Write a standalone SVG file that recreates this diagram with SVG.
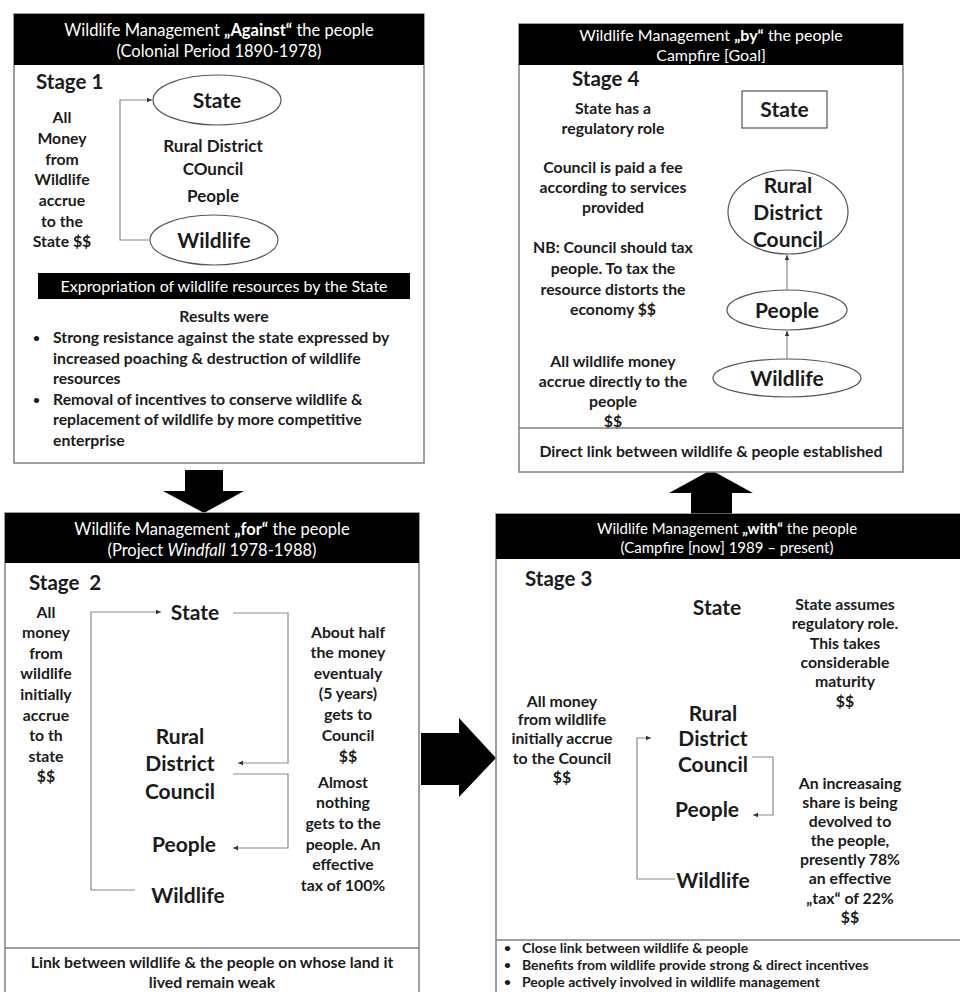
<svg xmlns="http://www.w3.org/2000/svg" width="960" height="992" viewBox="0 0 960 992">
<style>
text{font-family:Lato,"Open Sans","Liberation Sans",sans-serif;fill:#1b1b1b}
.hd{fill:#fff;font-size:16px;text-anchor:middle}
.hdl{font-size:16.5px}
.hds{font-size:15px}
.b{font-weight:bold;font-size:15.8px}
.bs{font-size:14px}
.c{text-anchor:middle}
.bl{font-size:12px;font-weight:bold}
.stg{font-weight:bold;font-size:20.5px}
.nd{font-weight:bold;font-size:21px;text-anchor:middle}
.panel{fill:#fff;stroke:#808080;stroke-width:1.5}
.bar{fill:#000}
.ell{fill:#fff;stroke:#555;stroke-width:1.2}
.conn{fill:none;stroke:#8a8a8a;stroke-width:1.2}
.big{fill:#000}
</style>
<defs>
<marker id="ah" markerWidth="6" markerHeight="6" refX="5" refY="3" orient="auto" markerUnits="userSpaceOnUse">
<path d="M0,0.8 L5,3 L0,5.2 Z" fill="#333"/>
</marker>
</defs>
<rect width="960" height="992" fill="#fff"/>

<!-- Big arrows -->
<g id="big-arrows">
<polygon class="big" points="185,470 223,470 223,491 244,491 204,513 163,491 185,491"/>
<polygon class="big" points="691,514 732,514 732,493 753,493 711,470 669,493 691,493"/>
<polygon class="big" points="421,733 459,733 459,718 496,758 459,797 459,785 421,785"/>
</g>

<!-- Panel 1 -->
<g id="panel1">
<rect class="panel" x="14" y="14" width="410" height="449"/>
<rect class="bar" x="14" y="14" width="410" height="51"/>
<text class="hd hdl" x="219" y="36">Wildlife Management <tspan font-weight="bold">„Against“</tspan> the people</text>
<text class="hd hdl" x="219" y="57">(Colonial Period 1890-1978)</text>
<text class="stg" x="36" y="89">Stage 1</text>
<text class="b c" x="62"><tspan x="62" y="123">All</tspan><tspan x="62" y="143.5">Money</tspan><tspan x="62" y="164.5">from</tspan><tspan x="62" y="185">Wildlife</tspan><tspan x="62" y="205.5">accrue</tspan><tspan x="62" y="226.5">to the</tspan><tspan x="62" y="247">State $$</tspan></text>
<g id="p1-state"><ellipse class="ell" cx="217" cy="100" rx="64" ry="25"/><text class="nd" x="217" y="107.5">State</text></g>
<g id="p1-mid"><text class="c" font-weight="bold" font-size="17px"><tspan x="213" y="152">Rural District</tspan><tspan x="213" y="175">COuncil</tspan><tspan x="213" y="202">People</tspan></text></g>
<g id="p1-wildlife"><ellipse class="ell" cx="214" cy="240" rx="64" ry="25"/><text class="nd" x="214" y="247.5">Wildlife</text></g>
<rect class="bar" x="38" y="273" width="372" height="26"/>
<text class="hd" x="224" y="291.5">Expropriation of wildlife resources by the State</text>
<text class="b c" x="224" y="322">Results were</text>
<text class="b"><tspan class="bl" x="33" y="342">•</tspan><tspan x="53" y="343">Strong resistance against the state expressed by</tspan><tspan x="53" y="363.5">increased poaching &amp; destruction of wildlife</tspan><tspan x="53" y="384">resources</tspan><tspan class="bl" x="33" y="403.5">•</tspan><tspan x="53" y="404.5">Removal of incentives to conserve wildlife &amp;</tspan><tspan x="53" y="425">replacement of wildlife by more competitive</tspan><tspan x="53" y="445.5">enterprise</tspan></text>
</g>

<!-- Panel 4 -->
<g id="panel4">
<rect class="panel" x="519" y="24" width="384" height="448"/>
<rect class="bar" x="519" y="24" width="384" height="41"/>
<text class="hd" x="711" y="40.5">Wildlife Management <tspan font-weight="bold">„by“</tspan> the people</text>
<text class="hd" x="711" y="61">Campfire [Goal]</text>
<text class="stg" x="572" y="86">Stage 4</text>
<text class="b c"><tspan x="613" y="113.5">State has a</tspan><tspan x="613" y="133.5">regulatory role</tspan><tspan x="613" y="172.5">Council is paid a fee</tspan><tspan x="613" y="192.5">according to services</tspan><tspan x="613" y="212.5">provided</tspan><tspan x="613" y="252.5">NB: Council should tax</tspan><tspan x="613" y="273.5">people. To tax the</tspan><tspan x="613" y="294.5">resource distorts the</tspan><tspan x="613" y="314.5">economy $$</tspan><tspan x="613" y="366.5">All wildlife money</tspan><tspan x="613" y="386.5">accrue directly to the</tspan><tspan x="613" y="406.5">people</tspan><tspan x="613" y="426.5">$$</tspan></text>
<g id="p4-state"><rect x="742" y="91" width="85" height="37" fill="#fff" stroke="#555" stroke-width="1.2"/><text class="nd" x="784.5" y="117">State</text></g>
<g id="p4-council"><ellipse class="ell" cx="788" cy="212" rx="60" ry="42"/><text class="nd"><tspan x="788" y="192.5">Rural</tspan><tspan x="788" y="219.5">District</tspan><tspan x="788" y="246.5">Council</tspan></text></g>
<g id="p4-people"><ellipse class="ell" cx="787" cy="310" rx="60" ry="20"/><text class="nd" x="787" y="317.5">People</text></g>
<g id="p4-wildlife"><ellipse class="ell" cx="787" cy="378" rx="74" ry="19"/><text class="nd" x="787" y="385.5">Wildlife</text></g>
<line x1="519" y1="428" x2="903" y2="428" stroke="#808080" stroke-width="1.5"/>
<text class="b c" x="711" y="457">Direct link between wildlife &amp; people established</text>
</g>

<!-- Panel 2 -->
<g id="panel2">
<rect class="panel" x="5" y="513" width="414" height="490"/>
<rect class="bar" x="5" y="513" width="414" height="50"/>
<text class="hd hdl" x="212" y="535">Wildlife Management <tspan font-weight="bold">„for“</tspan> the people</text>
<text class="hd hdl" x="212" y="556">(Project <tspan font-style="italic">Windfall</tspan> 1978-1988)</text>
<text class="stg" x="29" y="590" xml:space="preserve">Stage  2</text>
<text class="b c"><tspan x="46" y="617.5">All</tspan><tspan x="46" y="638">money</tspan><tspan x="46" y="658.5">from</tspan><tspan x="46" y="679">wildlife</tspan><tspan x="46" y="700">initially</tspan><tspan x="46" y="720.5">accrue</tspan><tspan x="46" y="741">to th</tspan><tspan x="46" y="761.5">state</tspan><tspan x="46" y="782">$$</tspan></text>
<g id="p2-state"><text class="nd" x="195" y="620">State</text></g>
<g id="p2-council"><text class="nd"><tspan x="180" y="744">Rural</tspan><tspan x="180" y="771">District</tspan><tspan x="180" y="798.5">Council</tspan></text></g>
<g id="p2-people"><text class="nd" x="184" y="851.5">People</text></g>
<g id="p2-wildlife"><text class="nd" x="188" y="902.5">Wildlife</text></g>
<text class="b c"><tspan x="348" y="637.5">About half</tspan><tspan x="348" y="657.5">the money</tspan><tspan x="348" y="678.5">eventualy</tspan><tspan x="348" y="698.5">(5 years)</tspan><tspan x="348" y="719.5">gets to</tspan><tspan x="348" y="740.5">Council</tspan><tspan x="348" y="761.5">$$</tspan></text>
<text class="b c"><tspan x="343" y="787.5">Almost</tspan><tspan x="343" y="807.5">nothing</tspan><tspan x="343" y="828.5">gets to the</tspan><tspan x="343" y="849.5">people. An</tspan><tspan x="343" y="869.5">effective</tspan><tspan x="343" y="890.5">tax of 100%</tspan></text>
<line x1="5" y1="948" x2="419" y2="948" stroke="#808080" stroke-width="1.5"/>
<text class="b c"><tspan x="212" y="967.5">Link between wildlife &amp; the people on whose land it</tspan><tspan x="212" y="988">lived remain weak</tspan></text>
</g>

<!-- Panel 3 -->
<g id="panel3">
<rect class="panel" x="496" y="514" width="470" height="490"/>
<rect class="bar" x="496" y="514" width="470" height="45"/>
<text class="hd hds" x="727" y="533.5">Wildlife Management <tspan font-weight="bold">„with“</tspan> the people</text>
<text class="hd hds" x="727" y="553">(Campfire [now] 1989 – present)</text>
<text class="stg" x="525" y="586">Stage 3</text>
<g id="p3-state"><text class="nd" x="717" y="614.5">State</text></g>
<text class="b c"><tspan x="845" y="609.5">State assumes</tspan><tspan x="845" y="629">regulatory role.</tspan><tspan x="845" y="648.5">This takes</tspan><tspan x="845" y="667.5">considerable</tspan><tspan x="845" y="687">maturity</tspan><tspan x="845" y="707">$$</tspan></text>
<text class="b c"><tspan x="562" y="706.5">All money</tspan><tspan x="562" y="725">from wildlife</tspan><tspan x="562" y="744">initially accrue</tspan><tspan x="562" y="763.5">to the Council</tspan><tspan x="562" y="782.5">$$</tspan></text>
<g id="p3-council"><text class="nd"><tspan x="713" y="720.5">Rural</tspan><tspan x="713" y="745.5">District</tspan><tspan x="713" y="771.5">Council</tspan></text></g>
<g id="p3-people"><text class="nd" x="707" y="816.5">People</text></g>
<g id="p3-wildlife"><text class="nd" x="713" y="887.5">Wildlife</text></g>
<text class="b c"><tspan x="850" y="788.5">An increasaing</tspan><tspan x="850" y="807.5">share is being</tspan><tspan x="850" y="826.5">devolved to</tspan><tspan x="850" y="845.5">the people,</tspan><tspan x="850" y="865">presently 78%</tspan><tspan x="850" y="884">an effective</tspan><tspan x="850" y="903.5">„tax“ of 22%</tspan><tspan x="850" y="923">$$</tspan></text>
<line x1="496" y1="940" x2="960" y2="940" stroke="#808080" stroke-width="1.5"/>
<text class="b bs"><tspan class="bl" x="504" y="952">•</tspan><tspan x="522" y="953">Close link between wildlife &amp; people</tspan><tspan class="bl" x="504" y="969">•</tspan><tspan x="522" y="970">Benefits from wildlife provide strong &amp; direct incentives</tspan><tspan class="bl" x="504" y="986">•</tspan><tspan x="522" y="987">People actively involved in wildlife management</tspan></text>
</g>

<!-- Connectors -->
<g id="connectors">
<path class="conn" d="M150,240 H120 V100 H152" marker-end="url(#ah)"/>
<path class="conn" d="M135,890 H91 V612 H161" marker-end="url(#ah)"/>
<path class="conn" d="M233,613 H288 V763 H238" marker-end="url(#ah)"/>
<path class="conn" d="M233,774 H288 V848 H233" marker-end="url(#ah)"/>
<path class="conn" d="M675,879 H637 V738 H651" marker-end="url(#ah)"/>
<path class="conn" d="M752,757 H773 V815 H753" marker-end="url(#ah)"/>
<path class="conn" d="M787,359 V331" marker-end="url(#ah)"/>
<path class="conn" d="M787,290 V255" marker-end="url(#ah)"/>
</g>
</svg>
